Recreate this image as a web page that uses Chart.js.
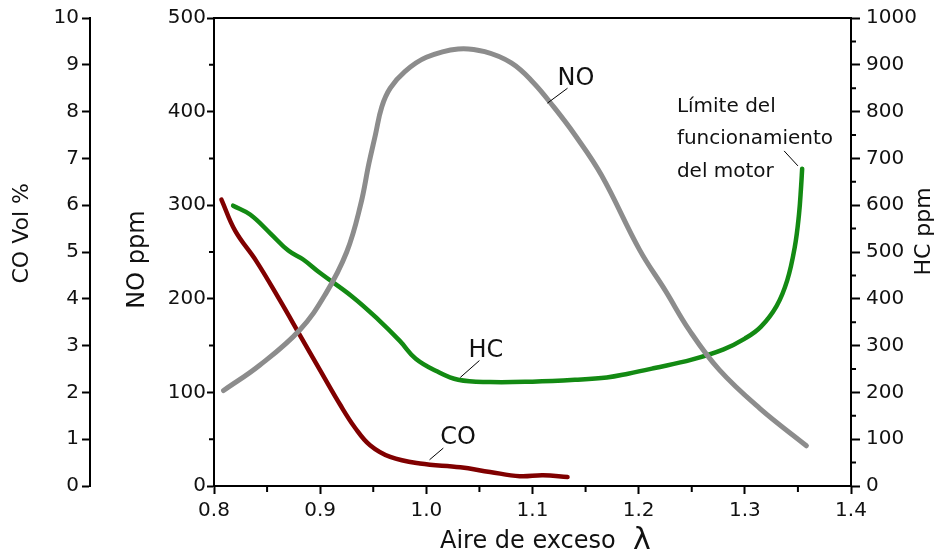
<!DOCTYPE html>
<html>
<head>
<meta charset="utf-8">
<script src="https://cdn.jsdelivr.net/npm/chart.js@4/dist/chart.umd.min.js"></script>
<style>
  html, body { margin: 0; padding: 0; background: #fff; }
</style>
</head>
<body>
<canvas id="chart" width="938" height="560"></canvas>
<script>
// NO (ppm) vs excess air
const noLambda = [0.809, 0.843, 0.881, 0.905, 0.925, 0.938, 0.946, 0.952, 0.958, 0.966, 0.980, 1.000, 1.030, 1.055, 1.080, 1.100, 1.120, 1.140, 1.165, 1.201, 1.225, 1.248, 1.276, 1.314, 1.358];
const noPpm    = [102, 129, 167, 205, 250, 300, 345, 375, 405, 425, 443, 458, 467, 464, 452, 432, 405, 375, 332, 252, 209, 166, 124, 83, 43];

// HC (ppm, right axis)
const hcLambda = [0.818, 0.834, 0.853, 0.870, 0.884, 0.900, 0.930, 0.955, 0.975, 0.990, 1.010, 1.030, 1.060, 1.100, 1.140, 1.170, 1.190, 1.215, 1.250, 1.280, 1.300, 1.315, 1.330, 1.340, 1.347, 1.351, 1.353, 1.354];
const hcPpm    = [599, 580, 540, 503, 484, 455, 405, 355, 310, 272, 245, 227, 222, 223, 227, 232, 240, 252, 270, 292, 315, 340, 385, 440, 510, 580, 640, 678];

// CO (Vol %)
const coLambda = [0.807, 0.820, 0.840, 0.862, 0.881, 0.900, 0.919, 0.933, 0.947, 0.966, 0.994, 1.032, 1.060, 1.088, 1.110, 1.133];
const coVol    = [6.12, 5.45, 4.80, 3.97, 3.22, 2.47, 1.73, 1.24, 0.87, 0.62, 0.48, 0.40, 0.30, 0.21, 0.23, 0.19];

const FONT = 'DejaVu Sans';
Chart.defaults.font.family = FONT;
Chart.defaults.color = '#111';

function toPoints(xs, ys) {
  return xs.map((x, i) => ({ x: x, y: ys[i] }));
}

// curve labels, anchored in (lambda, NO-axis) units
const labels = [
  { text: 'NO', x: 1.141, y: 435, from: [1.114, 409], to: [1.133, 425] },
  { text: 'HC', x: 1.056, y: 145, from: [1.032, 116], to: [1.050, 134] },
  { text: 'CO', x: 1.030, y: 51, from: [1.003, 28], to: [1.016, 40.5] }
];
const limitText = ['Límite del', 'funcionamiento', 'del motor'];

function verticalTitle(ctx, text, x, y, size) {
  ctx.save();
  ctx.translate(x, y);
  ctx.rotate(-Math.PI / 2);
  ctx.textAlign = 'center';
  ctx.textBaseline = 'middle';
  ctx.font = size + 'px "' + FONT + '"';
  ctx.fillText(text, 0, 0);
  ctx.restore();
}

const decor = {
  id: 'decor',
  afterDraw(chart) {
    const ctx = chart.ctx;
    const area = chart.chartArea;
    const sx = chart.scales.x, sNO = chart.scales.yNO, sHC = chart.scales.yHC, sCO = chart.scales.yCO;
    ctx.save();
    ctx.strokeStyle = '#000';
    ctx.fillStyle = '#111';
    ctx.lineWidth = 2;

    // top frame line
    ctx.beginPath();
    ctx.moveTo(area.left, area.top);
    ctx.lineTo(area.right, area.top);
    ctx.stroke();

    // minor ticks
    ctx.beginPath();
    for (let v = 50; v < 500; v += 100) {
      const y = sNO.getPixelForValue(v);
      ctx.moveTo(area.left - 5, y); ctx.lineTo(area.left, y);
    }
    for (let v = 50; v < 1000; v += 100) {
      const y = sHC.getPixelForValue(v);
      ctx.moveTo(area.right, y); ctx.lineTo(area.right + 5, y);
    }
    for (let v = 0.85; v < 1.4; v += 0.1) {
      const x = sx.getPixelForValue(v);
      ctx.moveTo(x, area.bottom); ctx.lineTo(x, area.bottom + 6);
    }
    ctx.stroke();

    // y axis titles, all reading bottom to top
    verticalTitle(ctx, 'CO Vol %', 22, sCO.getPixelForValue(5.4), 22);
    verticalTitle(ctx, 'NO ppm', 138, sNO.getPixelForValue(242), 24);
    verticalTitle(ctx, 'HC ppm', 924, sHC.getPixelForValue(544), 22);

    // x axis title with a larger lambda
    ctx.textAlign = 'left';
    ctx.textBaseline = 'alphabetic';
    ctx.font = '24px "' + FONT + '"';
    ctx.fillText('Aire de exceso', 440, 548);
    ctx.font = '30px "' + FONT + '"';
    ctx.fillText('λ', 633, 549);

    // curve labels with leader lines
    ctx.lineWidth = 1;
    ctx.textAlign = 'center';
    ctx.textBaseline = 'middle';
    ctx.font = '24px "' + FONT + '"';
    labels.forEach(l => {
      ctx.fillText(l.text, sx.getPixelForValue(l.x), sNO.getPixelForValue(l.y));
      ctx.beginPath();
      ctx.moveTo(sx.getPixelForValue(l.from[0]), sNO.getPixelForValue(l.from[1]));
      ctx.lineTo(sx.getPixelForValue(l.to[0]), sNO.getPixelForValue(l.to[1]));
      ctx.stroke();
    });

    ctx.font = '20px "' + FONT + '"';
    ctx.textAlign = 'left';
    limitText.forEach((t, i) => {
      ctx.fillText(t, sx.getPixelForValue(1.236), sNO.getPixelForValue(405 - i * 34.5));
    });
    ctx.beginPath();
    ctx.moveTo(sx.getPixelForValue(1.337), sNO.getPixelForValue(358));
    ctx.lineTo(sx.getPixelForValue(1.350), sNO.getPixelForValue(342));
    ctx.stroke();
    ctx.restore();
  }
};

const axisLine = { color: '#000', width: 2 };
const tickGrid = { drawOnChartArea: false, tickLength: 8, tickWidth: 2, tickColor: '#000' };

new Chart(document.getElementById('chart').getContext('2d'), {
  type: 'line',
  data: {
    datasets: [
      { label: 'NO', data: toPoints(noLambda, noPpm), yAxisID: 'yNO', borderColor: '#8c8c8c', borderWidth: 5, borderCapStyle: 'round', tension: 0.4, pointRadius: 0 },
      { label: 'HC', data: toPoints(hcLambda, hcPpm), yAxisID: 'yHC', borderColor: '#138a13', borderWidth: 4.5, borderCapStyle: 'round', tension: 0.4, pointRadius: 0 },
      { label: 'CO', data: toPoints(coLambda, coVol), yAxisID: 'yCO', borderColor: '#800000', borderWidth: 4.5, borderCapStyle: 'round', tension: 0.4, pointRadius: 0 }
    ]
  },
  options: {
    responsive: false,
    animation: false,
    layout: { padding: { top: 17, left: 0, right: 0, bottom: 0 } },
    plugins: { legend: { display: false }, tooltip: { enabled: false } },
    scales: {
      x: {
        type: 'linear', position: 'bottom', min: 0.8, max: 1.4,
        ticks: { stepSize: 0.1, font: { size: 20 }, padding: 5, maxRotation: 0, autoSkip: false, callback: v => v.toFixed(1) },
        grid: tickGrid, border: axisLine,
        afterFit: s => { s.height = 74; }
      },
      yNO: {
        position: 'left', weight: 0, min: 0, max: 500,
        ticks: { stepSize: 100, font: { size: 20 }, padding: 1 },
        grid: Object.assign({}, tickGrid, { tickLength: 7 }), border: axisLine,
        afterFit: s => { s.width = 124; }
      },
      yCO: {
        position: 'left', weight: 1, min: 0, max: 10,
        ticks: { stepSize: 1, font: { size: 20 }, padding: 3 },
        grid: tickGrid, border: axisLine,
        afterFit: s => { s.width = 90; }
      },
      yHC: {
        position: 'right', min: 0, max: 1000,
        ticks: { stepSize: 100, font: { size: 20 }, padding: 6, callback: v => String(v) },
        grid: Object.assign({}, tickGrid, { tickLength: 9 }), border: axisLine,
        afterFit: s => { s.width = 87; }
      }
    }
  },
  plugins: [decor]
});
</script>
</body>
</html>
